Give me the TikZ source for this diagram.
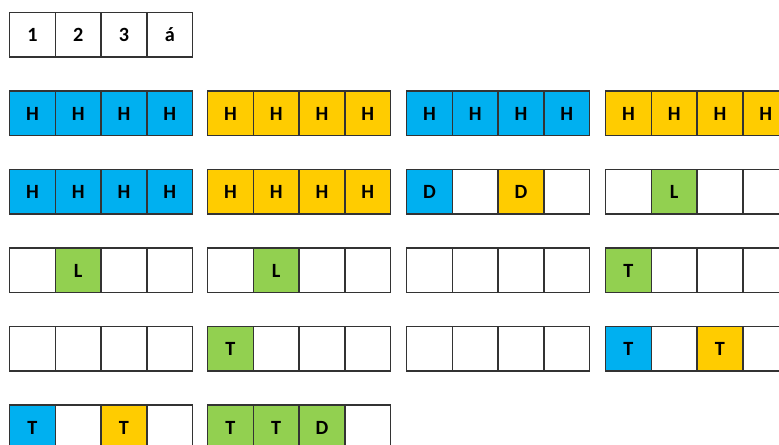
\documentclass[tikz,border=0pt]{standalone}
\usepackage{fontspec}
\setmainfont{Carlito}
\usetikzlibrary{positioning}

\definecolor{hblue}{HTML}{00B0F0}
\definecolor{hyellow}{HTML}{FFCC00}
\definecolor{hgreen}{HTML}{92D050}

% one block of four cells, cells chained left to right
\newcommand{\cellrow}[4]{%
  \foreach [count=\i, remember=\i as \j (initially 0)] \c/\t in {#4} {
    \ifnum\i=1
      \node[cell, fill=\c] (#1-\i) at (#2,#3) {\t};
    \else
      \node[cell, fill=\c, right=0pt of #1-\j] (#1-\i) {\t};
    \fi
  }}

\begin{document}
\begin{tikzpicture}[x=0.02cm, y=-0.02cm]
    \tikzset{
        cell/.style={draw=black!80, line width=0.85pt, outer sep=0pt, inner sep=0pt,
            minimum width=0.916cm, minimum height=0.89cm, anchor=north west,
            font=\bfseries\fontsize{11.5}{12}\selectfont}
    }
    \useasboundingbox (0,0) rectangle (779,444);

    % header
    \cellrow{r0c0}{9.5}{12.7}{white/1, white/2, white/3, white/á}

    % row 1
    \cellrow{r1c0}{9.5}{91.2}{hblue/H, hblue/H, hblue/H, hblue/H}
    \cellrow{r1c1}{207.5}{91.2}{hyellow/H, hyellow/H, hyellow/H, hyellow/H}
    \cellrow{r1c2}{406.5}{91.2}{hblue/H, hblue/H, hblue/H, hblue/H}
    \cellrow{r1c3}{605.5}{91.2}{hyellow/H, hyellow/H, hyellow/H, hyellow/H}

    % row 2
    \cellrow{r2c0}{9.5}{169.7}{hblue/H, hblue/H, hblue/H, hblue/H}
    \cellrow{r2c1}{207.5}{169.7}{hyellow/H, hyellow/H, hyellow/H, hyellow/H}
    \cellrow{r2c2}{406.5}{169.7}{hblue/D, white/{}, hyellow/D, white/{}}
    \cellrow{r2c3}{605.5}{169.7}{white/{}, hgreen/L, white/{}, white/{}}

    % row 3
    \cellrow{r3c0}{9.5}{248.2}{white/{}, hgreen/L, white/{}, white/{}}
    \cellrow{r3c1}{207.5}{248.2}{white/{}, hgreen/L, white/{}, white/{}}
    \cellrow{r3c2}{406.5}{248.2}{white/{}, white/{}, white/{}, white/{}}
    \cellrow{r3c3}{605.5}{248.2}{hgreen/T, white/{}, white/{}, white/{}}

    % row 4
    \cellrow{r4c0}{9.5}{326.7}{white/{}, white/{}, white/{}, white/{}}
    \cellrow{r4c1}{207.5}{326.7}{hgreen/T, white/{}, white/{}, white/{}}
    \cellrow{r4c2}{406.5}{326.7}{white/{}, white/{}, white/{}, white/{}}
    \cellrow{r4c3}{605.5}{326.7}{hblue/T, white/{}, hyellow/T, white/{}}

    % row 5
    \cellrow{r5c0}{9.5}{405.2}{hblue/T, white/{}, hyellow/T, white/{}}
    \cellrow{r5c1}{207.5}{405.2}{hgreen/T, hgreen/T, hgreen/D, white/{}}

\end{tikzpicture}
\end{document}
